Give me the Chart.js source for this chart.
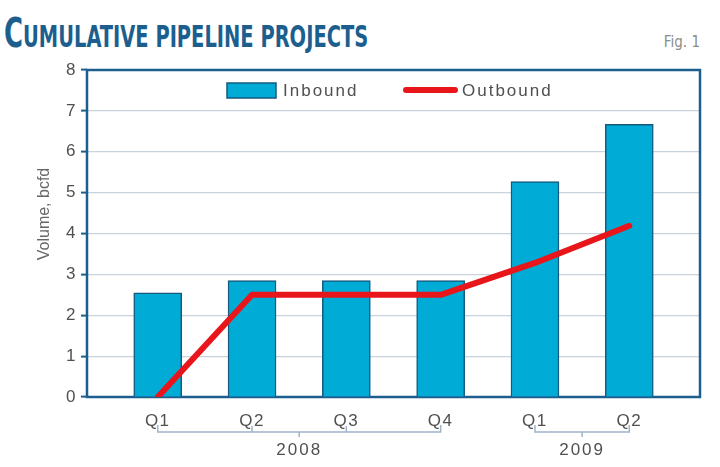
<!DOCTYPE html>
<html>
<head>
<meta charset="utf-8">
<script src="https://cdn.jsdelivr.net/npm/chart.js@4.4.0/dist/chart.umd.min.js"></script>
<style>
  html, body { margin: 0; padding: 0; background: #fff; }
  #wrap { position: relative; width: 720px; height: 467px; overflow: hidden; }
  #title {
    position: absolute; left: 4px; top: 13px;
    font-family: 'Liberation Sans Narrow', 'DejaVu Sans Condensed', sans-serif;
    font-weight: bold; color: #1c5f8e; white-space: nowrap;
    transform-origin: 0 0; line-height: 40px;
  }
  #title .big { font-size: 40px; }
  #title .small { font-size: 30px; }
  #fig {
    position: absolute; right: 20px; top: 33px;
    font-family: 'Liberation Sans Narrow', 'DejaVu Sans Condensed', sans-serif;
    font-size: 15px; color: #8a8a8a;
  }
  canvas { position: absolute; left: 0; top: 0; }
</style>
</head>
<body>
<div id="wrap">
  <div id="title"><span class="big">C</span><span class="small">UMULATIVE PIPELINE PROJECTS</span></div>
  <div id="fig">Fig. 1</div>
  <canvas id="chart" width="720" height="467"></canvas>
</div>
<script>
// --- data ---
const quarters = ['Q1', 'Q2', 'Q3', 'Q4', 'Q1', 'Q2'];
const years = ['2008', '2009'];
const yearSpans = [[0, 3], [4, 5]]; // first/last quarter index of each year
const inbound = [2.55, 2.85, 2.85, 2.85, 5.27, 6.67];
const outbound = [0, 2.5, 2.5, 2.5, 3.28, 4.19];
const yMin = 0, yMax = 8;

const TEXT = '#505050';
const DARK = '#1c5f8e';

// squeeze the title to the width of the original
const titleEl = document.getElementById('title');
titleEl.style.transform = 'scaleX(' + (364 / titleEl.offsetWidth) + ')';

// frame, y title, legend, year brackets
const decor = {
  id: 'decor',
  beforeDraw(chart) {
    chart.ctx.letterSpacing = '1.5px';
  },
  beforeDatasetsDraw(chart) {
    const { ctx, chartArea: a } = chart;
    ctx.save();
    ctx.strokeStyle = DARK;
    ctx.lineWidth = 2.5;
    ctx.strokeRect(a.left, a.top, a.right - a.left, a.bottom - a.top);
    ctx.restore();
  },
  afterDraw(chart) {
    const { ctx } = chart;
    const xs = chart.scales.x;
    ctx.save();

    // y axis title
    ctx.letterSpacing = '0px';
    ctx.fillStyle = '#666';
    ctx.font = '16px "Liberation Sans", Arial, sans-serif';
    ctx.textAlign = 'center';
    ctx.textBaseline = 'middle';
    ctx.save();
    ctx.translate(45, 214);
    ctx.rotate(-Math.PI / 2);
    ctx.fillText('Volume, bcfd', 0, 0);
    ctx.restore();

    // legend
    ctx.letterSpacing = '2px';
    ctx.font = '17px "Liberation Sans", Arial, sans-serif';
    ctx.textAlign = 'left';
    ctx.fillStyle = '#00acd6';
    ctx.fillRect(227, 83, 49, 15);
    ctx.strokeStyle = '#15597f';
    ctx.lineWidth = 1.5;
    ctx.strokeRect(227, 83, 49, 15);
    ctx.fillStyle = TEXT;
    ctx.fillText(chart.data.datasets[1].label, 283, 91);
    ctx.strokeStyle = '#e8161b';
    ctx.lineWidth = 6;
    ctx.lineCap = 'round';
    ctx.beginPath();
    ctx.moveTo(406, 90);
    ctx.lineTo(455, 90);
    ctx.stroke();
    ctx.fillText(chart.data.datasets[0].label, 462, 91);

    // year brackets
    ctx.strokeStyle = '#9fb4ca';
    ctx.lineWidth = 1.5;
    ctx.lineCap = 'butt';
    ctx.textAlign = 'center';
    yearSpans.forEach((sp, k) => {
      const x0 = xs.getPixelForValue(sp[0]);
      const x1 = xs.getPixelForValue(sp[1]);
      const xc = (x0 + x1) / 2;
      ctx.beginPath();
      ctx.moveTo(x0, 425); ctx.lineTo(x0, 432); ctx.lineTo(x1, 432); ctx.lineTo(x1, 425);
      for (let i = sp[0] + 1; i < sp[1]; i++) {
        const xi = xs.getPixelForValue(i);
        ctx.moveTo(xi, 432); ctx.lineTo(xi, 426);
      }
      ctx.moveTo(xc, 432); ctx.lineTo(xc, 437);
      ctx.stroke();
      ctx.fillText(years[k], xc, 450);
    });
    ctx.restore();
  }
};

new Chart(document.getElementById('chart'), {
  type: 'bar',
  data: {
    datasets: [
      {
        type: 'line',
        label: 'Outbound',
        data: outbound.map((v, i) => ({ x: i, y: v })),
        borderColor: '#e8161b',
        borderWidth: 6,
        pointRadius: 0,
        tension: 0,
        borderCapStyle: 'round',
        borderJoinStyle: 'round',
        order: 0
      },
      {
        label: 'Inbound',
        data: inbound.map((v, i) => ({ x: i, y: v })),
        backgroundColor: '#00acd6',
        borderColor: '#15597f',
        borderWidth: 1.5,
        barThickness: 48,
        order: 1
      }
    ]
  },
  options: {
    responsive: false,
    animation: false,
    layout: { padding: { top: 70, right: 20, left: 0, bottom: 0 } },
    plugins: { legend: { display: false }, tooltip: { enabled: false } },
    scales: {
      x: {
        type: 'linear',
        min: -0.75,
        max: 5.75,
        offset: false,
        afterBuildTicks: s => { s.ticks = quarters.map((q, i) => ({ value: i })); },
        afterFit: s => { s.height = 70; },
        ticks: {
          autoSkip: false,
          maxRotation: 0,
          padding: 6,
          color: TEXT,
          font: { family: '"Liberation Sans", Arial, sans-serif', size: 17 },
          callback: v => quarters[v]
        },
        grid: { display: false },
        border: { display: false }
      },
      y: {
        min: yMin,
        max: yMax,
        afterFit: s => { s.width = 87; },
        ticks: {
          stepSize: 1,
          padding: 4,
          color: TEXT,
          font: { family: '"Liberation Sans", Arial, sans-serif', size: 17 }
        },
        grid: { color: '#c8d3de', lineWidth: 1.2, tickLength: 6, tickColor: DARK, tickWidth: 2 },
        border: { display: false }
      }
    }
  },
  plugins: [decor]
});
</script>
</body>
</html>
